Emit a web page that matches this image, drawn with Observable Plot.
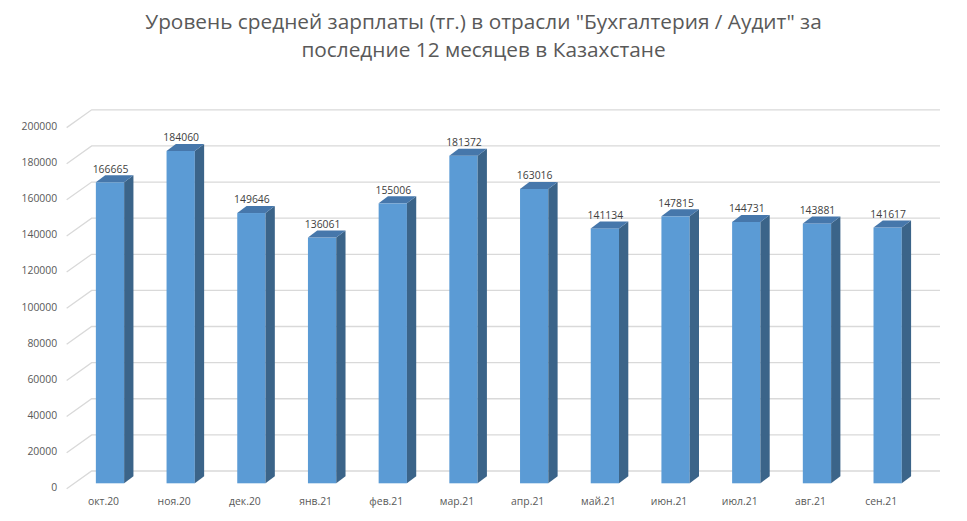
<!DOCTYPE html>
<html>
<head>
<meta charset="utf-8">
<script src="https://cdn.jsdelivr.net/npm/d3@7"></script>
<script src="https://cdn.jsdelivr.net/npm/@observablehq/plot@0.6"></script>
<style>
  html, body { margin: 0; padding: 0; background: #fff; }
  #title { width: 967px; height: 70px; box-sizing: border-box; padding-top: 7px;
    text-align: center; font-family: "Open Sans", sans-serif; font-size: 20.8px;
    line-height: 28px; color: #595959; }
  svg { display: block; }
</style>
</head>
<body>
<div id="title">Уровень средней зарплаты (тг.) в отрасли "Бухгалтерия / Аудит" за<br>последние 12 месяцев в Казахстане</div>
<div id="chart"></div>
<script>
const months = ["окт.20","ноя.20","дек.20","янв.21","фев.21","мар.21","апр.21","май.21","июн.21","июл.21","авг.21","сен.21"];
const salaries = [166665,184060,149646,136061,155006,181372,163016,141134,147815,144731,143881,141617];
const yTicks = [0,20000,40000,60000,80000,100000,120000,140000,160000,180000,200000];

const data = months.map((m, i) => ({month: m, value: salaries[i]}));

// 3D projection offsets (pixels)
const DEPTH_X = 9.3, DEPTH_Y = -7;      // bar depth
const WALL_X = 17, WALL_Y = -12.3;      // back wall relative to bar plane
const FRONT_X = -8, FRONT_Y = 5.5;      // front axis plane relative to bar plane

const FRONT = "#5b9bd5", SIDE = "#3b6489", TOP = "#4677ab";
const ns = "http://www.w3.org/2000/svg";

function bars3d(index, scales, values, dimensions, context, next) {
  const g = next(index, scales, values, dimensions, context);
  const bw = scales.x.bandwidth ? scales.x.bandwidth() : 0;
  for (const i of index) {
    const x1 = values.x[i], x2 = x1 + bw;
    const yTop = Math.min(values.y1[i], values.y2[i]), yBot = Math.max(values.y1[i], values.y2[i]);
    const side = document.createElementNS(ns, "polygon");
    side.setAttribute("points", [[x2, yTop],[x2 + DEPTH_X, yTop + DEPTH_Y],[x2 + DEPTH_X, yBot + DEPTH_Y],[x2, yBot]].map(p => p.join(",")).join(" "));
    side.setAttribute("fill", SIDE);
    g.appendChild(side);
    const top = document.createElementNS(ns, "polygon");
    top.setAttribute("points", [[x1, yTop],[x1 + DEPTH_X, yTop + DEPTH_Y],[x2 + DEPTH_X, yTop + DEPTH_Y],[x2, yTop]].map(p => p.join(",")).join(" "));
    top.setAttribute("fill", TOP);
    g.appendChild(top);
  }
  return g;
}

function grid3d(index, scales, values, dimensions) {
  const g = document.createElementNS(ns, "g");
  const xl = dimensions.marginLeft, xr = dimensions.width - dimensions.marginRight;
  for (const i of index) {
    const y = values.y[i];
    const p = document.createElementNS(ns, "path");
    p.setAttribute("d", `M${xl + FRONT_X},${y + FRONT_Y}L${xl + WALL_X},${y + WALL_Y}L${xr + WALL_X},${y + WALL_Y}`);
    p.setAttribute("fill", "none");
    p.setAttribute("stroke", "#d9d9d9");
    p.setAttribute("stroke-width", 1.3);
    g.appendChild(p);
  }
  return g;
}

const chart = Plot.plot({
  width: 967,
  height: 451,
  marginLeft: 74.65,
  marginRight: 44,
  marginTop: 52.1,
  marginBottom: 37.7,
  style: {fontFamily: "'Open Sans', sans-serif", fontSize: "10.4px", color: "#595959", background: "#fff"},
  x: {domain: months, paddingInner: 0.6, paddingOuter: 0.3, round: false, label: null},
  y: {domain: [0, 200000], label: null},
  marks: [
    Plot.ruleY(yTicks, {y: d => d, render: grid3d}),
    Plot.axisY(yTicks, {tickSize: 0, tickPadding: 18, dy: 4, tickFormat: d => String(d), fill: "#595959"}),
    Plot.axisX({tickSize: 0, tickPadding: 14, dx: -7, fill: "#595959"}),
    Plot.barY(data, {x: "month", y: "value", fill: FRONT, render: bars3d}),
    Plot.text(data, {x: "month", y: "value", text: d => String(d.value), dy: -13.5, fill: "#404040"})
  ]
});
document.getElementById("chart").appendChild(chart);
</script>
</body>
</html>
